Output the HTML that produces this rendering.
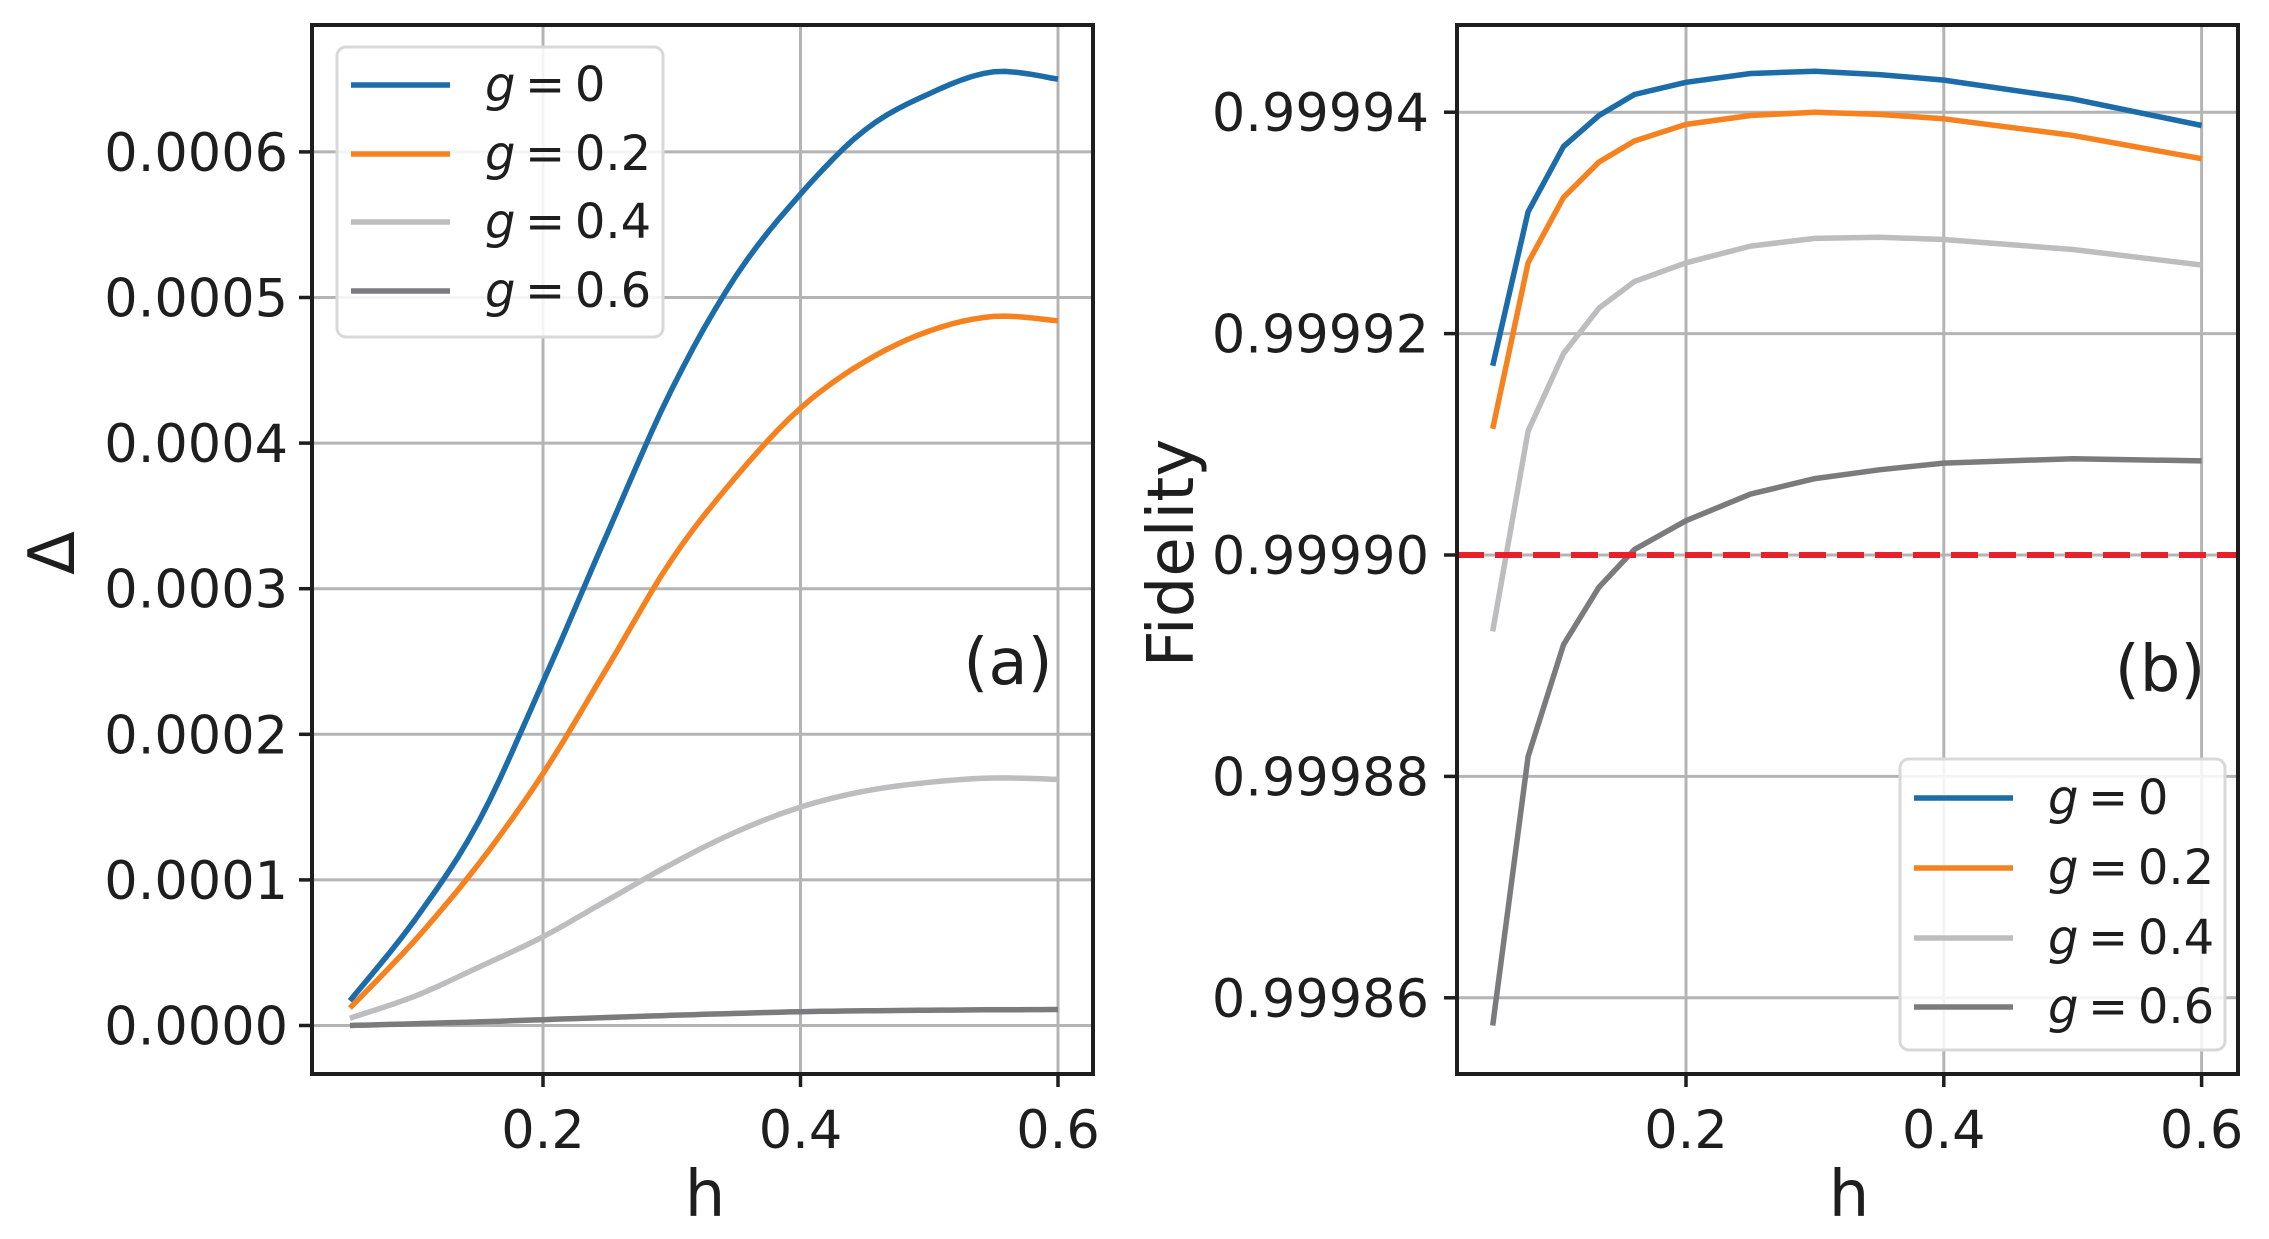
<!DOCTYPE html>
<html><head><meta charset="utf-8"><style>
html,body{margin:0;padding:0;background:#fff;}
svg{display:block;font-family:"DejaVu Sans","Liberation Sans",sans-serif;}
</style></head><body>
<svg id="s" width="2269" height="1239" viewBox="0 0 2269 1239" xmlns="http://www.w3.org/2000/svg">
<defs>
<clipPath id="ca"><rect x="312" y="25" width="781" height="1049"/></clipPath>
<clipPath id="cb"><rect x="1457" y="25" width="781" height="1049"/></clipPath>
</defs>
<g id="grid" stroke="#b4b4b4" stroke-width="3"></g>
<g id="curves" fill="none" stroke-width="5.5" stroke-linejoin="round"></g>
<line x1="1457" y1="555" x2="2238" y2="555" stroke="#e8202a" stroke-width="6" stroke-dasharray="27,11"/>
<g fill="none" stroke="#1e1e1e" stroke-width="4">
<rect x="312" y="25" width="781" height="1049"/>
<rect x="1457" y="25" width="781" height="1049"/>
</g>
<g id="ticks" stroke="#1e1e1e" stroke-width="3.5"></g>
<g id="labels" fill="#1e1e1e" font-size="52.5"></g>
<text x="1008" y="684" font-size="64" fill="#1e1e1e" text-anchor="middle">(a)</text>
<text x="2160" y="691" font-size="64" fill="#1e1e1e" text-anchor="middle">(b)</text>
<text x="705" y="1216" font-size="64" fill="#1e1e1e" text-anchor="middle">h</text>
<text x="1849" y="1216" font-size="64" fill="#1e1e1e" text-anchor="middle">h</text>
<text transform="translate(74,553) rotate(-90)" font-size="64" fill="#1e1e1e" text-anchor="middle">Δ</text>
<text transform="translate(1193,553) rotate(-90)" font-size="64" fill="#1e1e1e" text-anchor="middle">Fidelity</text>
<g id="legends"></g>
</svg>
<script>
var NS="http://www.w3.org/2000/svg";
function el(p,t,a,txt){var e=document.createElementNS(NS,t);for(var k in a)e.setAttribute(k,a[k]);if(txt!==undefined)e.textContent=txt;document.getElementById(p).appendChild(e);return e;}
var XA=function(h){return 543+(h-0.2)*1287.5;}, YA=function(v){return 1025.5-v*1456000;};
var XB=function(h){return 1686+(h-0.2)*1289;}, YB=function(v){return 555-v*110.7;};
[0.2,0.4,0.6].forEach(function(h){
 el('grid','line',{x1:XA(h),y1:25,x2:XA(h),y2:1074});
 el('grid','line',{x1:XB(h),y1:25,x2:XB(h),y2:1074});
 el('ticks','line',{x1:XA(h),y1:1074,x2:XA(h),y2:1087});
 el('ticks','line',{x1:XB(h),y1:1074,x2:XB(h),y2:1087});
 el('labels','text',{x:XA(h),y:1148,'text-anchor':'middle'},h.toFixed(1));
 el('labels','text',{x:XB(h),y:1148,'text-anchor':'middle'},h.toFixed(1));
});
for(var i=0;i<=6;i++){var v=i*1e-4,y=YA(v);
 el('grid','line',{x1:312,y1:y,x2:1093,y2:y});
 el('ticks','line',{x1:299,y1:y,x2:312,y2:y});
 el('labels','text',{x:288,y:y+19,'text-anchor':'end'},(v).toFixed(4));}
[-4,-2,0,2,4].forEach(function(v){var y=YB(v);
 el('grid','line',{x1:1457,y1:y,x2:2238,y2:y});
 el('ticks','line',{x1:1444,y1:y,x2:1457,y2:y});
 el('labels','text',{x:1429,y:y+19,'text-anchor':'end'},(0.9999+v*1e-5).toFixed(5));});
var C=['#1b6ca8','#f5821f','#bdbdc0','#7b7b7e'];
function spline(xs,ys,n){
 var out=[];
 for(var i=0;i<xs.length-1;i++){
  var x0=xs[Math.max(i-1,0)],x1=xs[i],x2=xs[i+1],x3=xs[Math.min(i+2,xs.length-1)];
  var y0=ys[Math.max(i-1,0)],y1=ys[i],y2=ys[i+1],y3=ys[Math.min(i+2,ys.length-1)];
  for(var k=0;k<n;k++){var t=k/n,t2=t*t,t3=t2*t;
   var f=function(a,b,c,d){return 0.5*((2*b)+(-a+c)*t+(2*a-5*b+4*c-d)*t2+(-a+3*b-3*c+d)*t3);};
   out.push([f(x0,x1,x2,x3),f(y0,y1,y2,y3)]);}
 }
 out.push([xs[xs.length-1],ys[ys.length-1]]);return out;
}
var HA=[0.05,0.1,0.15,0.2,0.25,0.3,0.35,0.4,0.45,0.5,0.55,0.6];
var DA=[
[17,72,140,236,338,437,515,571,615,640,655,650],
[12,58,111,173,246,320,377,424,456,477,487,484],
[5,20,40,61,86,111,133,150,161,167,170,169],
[0,1.2,2.5,4,5.5,7,8.3,9.5,10.1,10.5,10.8,11]];
DA.forEach(function(d,j){var pts=spline(HA.map(XA),d.map(function(v){return YA(v*1e-6);}),6);
 el('curves','polyline',{points:pts.map(function(p){return p[0].toFixed(1)+','+p[1].toFixed(1);}).join(' '),stroke:C[j],'clip-path':'url(#ca)'});});
var HB=[0.05,0.0775,0.105,0.1325,0.16,0.2,0.25,0.3,0.35,0.4,0.5,0.6];
var DB=[
[1.71,3.10,3.69,3.97,4.16,4.27,4.35,4.37,4.34,4.29,4.12,3.88],
[1.14,2.64,3.23,3.55,3.74,3.89,3.97,4.0,3.98,3.94,3.79,3.58],
[-0.69,1.12,1.82,2.23,2.47,2.64,2.79,2.86,2.87,2.85,2.76,2.62],
[-4.25,-1.82,-0.81,-0.29,0.05,0.31,0.55,0.69,0.77,0.83,0.87,0.85]];
DB.forEach(function(d,j){var p=HB.map(function(h,i){return XB(h).toFixed(1)+','+YB(d[i]).toFixed(1);}).join(' ');
 el('curves','polyline',{points:p,stroke:C[j],'clip-path':'url(#cb)'});});
function legend(x0,y0,w,h,lx1,lx2,tx,ys){
 el('legends','rect',{x:x0,y:y0,width:w,height:h,rx:9,fill:'#fff','fill-opacity':0.85,stroke:'#d8d8d8','stroke-width':3});
 var lab=['0','0.2','0.4','0.6'];
 ys.forEach(function(y,j){
  el('legends','line',{x1:lx1,y1:y,x2:lx2,y2:y,stroke:C[j],'stroke-width':5.5});
  var t=el('legends','text',{x:tx,y:y+16,'font-size':48,fill:'#1e1e1e'});
  var a=document.createElementNS(NS,'tspan');a.setAttribute('font-style','italic');a.textContent='g';t.appendChild(a);
  var b=document.createElementNS(NS,'tspan');b.textContent='\u2009=\u2009'+lab[j];t.appendChild(b);
 });
}
legend(337,47,326,290,351,450,485,[85,154,222,291]);
legend(1900,759,325,291,1914,2013,2048,[798,868,938,1007]);
</script>
</body></html>
